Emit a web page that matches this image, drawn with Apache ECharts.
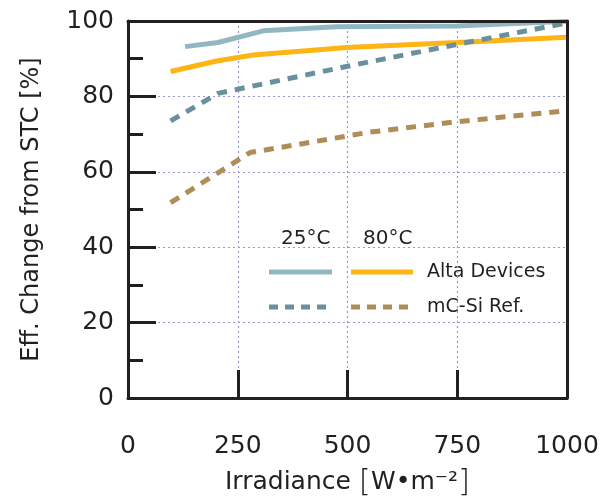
<!DOCTYPE html>
<html>
<head>
<meta charset="utf-8">
<script src="https://cdn.jsdelivr.net/npm/echarts@6/dist/echarts.min.js"></script>
<style>html,body{margin:0;padding:0;background:#fff;}#c{width:613px;height:501px;}</style>
</head>
<body>
<div id="c"></div>
<script>
// Irradiance [W·m-2] and efficiency change [%]
var altaX25 = [130, 205, 308, 475, 750, 1000];
var alta25  = [93.2, 94.3, 97.4, 98.5, 98.7, 99.9];
var altaX80 = [97, 202, 285, 498, 750, 1000];
var alta80  = [86.6, 89.4, 91.0, 93.0, 94.3, 95.7];
var mcsiX25 = [97, 205, 500, 750, 1000];
var mcsi25  = [73.5, 80.8, 88.0, 93.8, 99.5];
var mcsiX80 = [97, 278, 550, 750, 1000];
var mcsi80  = [51.8, 65.1, 70.5, 73.3, 76.2];
var xTicks = [0, 250, 500, 750, 1000];
var yTicks = [0, 20, 40, 60, 80, 100];

function pairs(xs, ys){ return xs.map(function(x,i){ return [x, ys[i]]; }); }

var FONT = 'DejaVu Sans';
var AX = '#231f20';
var GRIDC = '#9b94cf';
var C_A25 = '#91b8c2', C_A80 = '#fdb515', C_M25 = '#6a909b', C_M80 = '#b08d58';

var chart = echarts.init(document.getElementById('c'), null, {renderer:'canvas'});
chart.setOption({
  animation: false,
  backgroundColor: '#fff',
  grid: {left: 128, right: 46, top: 21, bottom: 103, containLabel: false, outerBoundsMode: 'none'},
  xAxis: [{
    type: 'value', min: xTicks[0], max: xTicks[xTicks.length-1], interval: 250,
    axisLine: {show: true, onZero: false, lineStyle: {color: AX, width: 3}},
    axisTick: {show: true, inside: true, length: 28, lineStyle: {color: AX, width: 3}},
    axisLabel: {margin: 36, color: AX, fontFamily: FONT, fontSize: 25,
      formatter: function(v){ return String(v); }},
    splitLine: {show: true, showMinLine: false, showMaxLine: false,
      lineStyle: {color: GRIDC, type: [2, 3], width: 1.2}},
    name: '{t|Irradiance }{b|[}{t|W•m⁻²}{b|]}',
    nameLocation: 'middle', nameGap: 69,
    nameTextStyle: {rich: {
      t: {fontFamily: FONT, fontSize: 25, color: AX},
      b: {fontFamily: FONT, fontSize: 31, color: AX, fontWeight: 200}
    }}
  }, {
    type: 'value', position: 'top', min: xTicks[0], max: xTicks[xTicks.length-1], z: 5,
    axisLine: {show: true, onZero: false, lineStyle: {color: AX, width: 3}},
    axisTick: {show: false}, axisLabel: {show: false}, splitLine: {show: false}
  }],
  yAxis: [{
    type: 'value', min: yTicks[0], max: yTicks[yTicks.length-1], interval: 20,
    axisLine: {show: true, onZero: false, lineStyle: {color: AX, width: 3}},
    axisTick: {show: true, inside: true, length: 28, lineStyle: {color: AX, width: 3}},
    minorTick: {show: true, splitNumber: 2, length: 15, lineStyle: {color: AX, width: 3}},
    axisLabel: {margin: 14, color: AX, fontFamily: FONT, fontSize: 25},
    splitLine: {show: true, showMinLine: false, showMaxLine: false,
      lineStyle: {color: GRIDC, type: [2, 3], width: 1.2}},
    name: 'Eff. Change from STC [%]', nameLocation: 'middle', nameGap: 84,
    nameTextStyle: {fontFamily: FONT, fontSize: 24, color: AX}
  }, {
    type: 'value', position: 'right', min: yTicks[0], max: yTicks[yTicks.length-1], z: 5,
    axisLine: {show: true, onZero: false, lineStyle: {color: AX, width: 3}},
    axisTick: {show: false}, axisLabel: {show: false}, splitLine: {show: false}
  }],
  series: [
    {type: 'line', data: pairs(altaX25, alta25), symbol: 'none', clip: false,
     lineStyle: {color: C_A25, width: 5}},
    {type: 'line', data: pairs(altaX80, alta80), symbol: 'none', clip: false,
     lineStyle: {color: C_A80, width: 5}},
    {type: 'line', data: pairs(mcsiX25, mcsi25), symbol: 'none', clip: false,
     lineStyle: {color: C_M25, width: 5, type: [10, 8]}},
    {type: 'line', data: pairs(mcsiX80, mcsi80), symbol: 'none', clip: false,
     lineStyle: {color: C_M80, width: 5, type: [10, 8]}}
  ],
  graphic: [
    {type: 'text', left: 281, top: 229, style: {text: '25°C', font: '20px "DejaVu Sans"', fill: AX}},
    {type: 'text', left: 363, top: 229, style: {text: '80°C', font: '20px "DejaVu Sans"', fill: AX}},
    {type: 'line', shape: {x1: 269, y1: 272, x2: 332, y2: 272}, style: {stroke: C_A25, lineWidth: 5}},
    {type: 'line', shape: {x1: 351, y1: 272, x2: 413, y2: 272}, style: {stroke: C_A80, lineWidth: 5}},
    {type: 'line', shape: {x1: 269, y1: 307, x2: 332, y2: 307}, style: {stroke: C_M25, lineWidth: 5, lineDash: [9, 7]}},
    {type: 'line', shape: {x1: 351, y1: 307, x2: 413, y2: 307}, style: {stroke: C_M80, lineWidth: 5, lineDash: [9, 7]}},
    {type: 'text', left: 427, top: 263, style: {text: 'Alta Devices', font: '19px "DejaVu Sans"', fill: AX}},
    {type: 'text', left: 427, top: 298, style: {text: 'mC-Si Ref.', font: '19px "DejaVu Sans"', fill: AX}}
  ]
});
</script>
</body>
</html>
